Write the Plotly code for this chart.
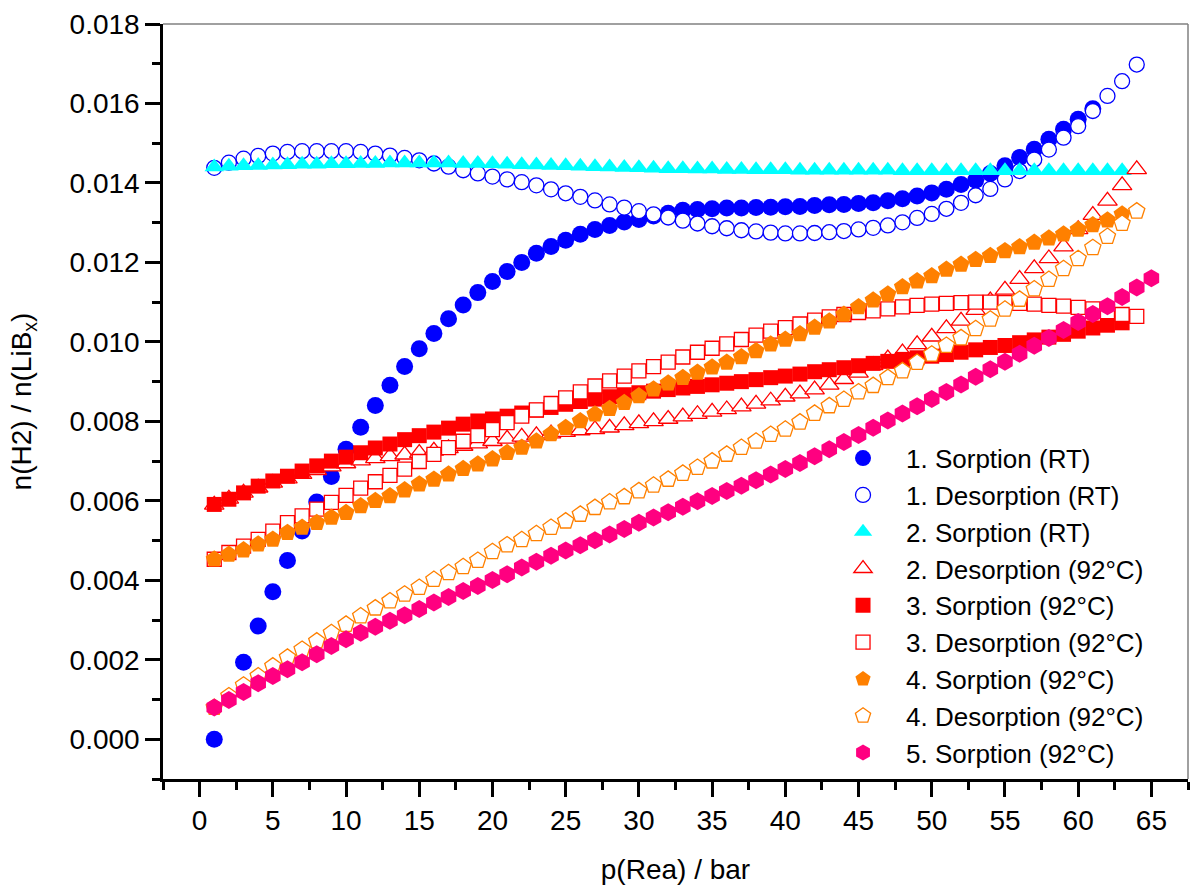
import plotly.graph_objects as go

# Pressure steps (bar) for each run
p_s1 = [1] + list(range(3, 62))
p_d1 = list(range(1, 65))
p_s2 = list(range(1, 64))
p_d2 = list(range(1, 65))
p_s3 = list(range(1, 64))
p_d3 = list(range(1, 65))
p_s4 = list(range(1, 64))
p_d4 = list(range(1, 65))
p_s5 = list(range(1, 66))

# n(H2)/n(LiBx) for each run
sorp1_rt = [
    0.00000, 0.00194, 0.00285, 0.00371, 0.00450, 0.00524, 0.00597, 0.00661, 0.00730, 0.00785,
    0.00840, 0.00891, 0.00938, 0.00983, 0.01021, 0.01058, 0.01093, 0.01124, 0.01152, 0.01177,
    0.01200, 0.01223, 0.01240, 0.01256, 0.01271, 0.01283, 0.01293, 0.01302, 0.01308, 0.01317,
    0.01324, 0.01331, 0.01333, 0.01335, 0.01337, 0.01337, 0.01338, 0.01339, 0.01340, 0.01341,
    0.01343, 0.01345, 0.01346, 0.01348, 0.01350, 0.01355, 0.01360, 0.01367, 0.01375, 0.01384,
    0.01396, 0.01407, 0.01424, 0.01443, 0.01464, 0.01485, 0.01510, 0.01535, 0.01560, 0.01587,
]
desorp1_rt = [
    0.01438, 0.01451, 0.01461, 0.01468, 0.01474, 0.01478, 0.01480, 0.01480, 0.01480, 0.01480,
    0.01478, 0.01474, 0.01469, 0.01463, 0.01457, 0.01449, 0.01441, 0.01432, 0.01424, 0.01416,
    0.01409, 0.01402, 0.01394, 0.01384, 0.01374, 0.01365, 0.01356, 0.01346, 0.01338, 0.01329,
    0.01321, 0.01313, 0.01305, 0.01298, 0.01291, 0.01286, 0.01281, 0.01278, 0.01275, 0.01273,
    0.01273, 0.01274, 0.01276, 0.01279, 0.01283, 0.01287, 0.01293, 0.01301, 0.01312, 0.01322,
    0.01335, 0.01350, 0.01369, 0.01385, 0.01409, 0.01430, 0.01459, 0.01484, 0.01514, 0.01543,
    0.01581, 0.01619, 0.01656, 0.01698,
]
sorp2_rt = [
    0.01440, 0.01442, 0.01443, 0.01444, 0.01445, 0.01446, 0.01447, 0.01447, 0.01448, 0.01448,
    0.01449, 0.01449, 0.01450, 0.01450, 0.01450, 0.01450, 0.01450, 0.01449, 0.01449, 0.01448,
    0.01447, 0.01446, 0.01445, 0.01444, 0.01443, 0.01442, 0.01441, 0.01440, 0.01439, 0.01438,
    0.01437, 0.01436, 0.01436, 0.01435, 0.01435, 0.01434, 0.01434, 0.01433, 0.01433, 0.01433,
    0.01432, 0.01432, 0.01432, 0.01432, 0.01432, 0.01432, 0.01432, 0.01431, 0.01431, 0.01431,
    0.01431, 0.01431, 0.01431, 0.01431, 0.01431, 0.01431, 0.01431, 0.01431, 0.01431, 0.01431,
    0.01431, 0.01431, 0.01431,
]
desorp2_92 = [
    0.00590, 0.00605, 0.00620, 0.00633, 0.00645, 0.00656, 0.00667, 0.00677, 0.00686, 0.00694,
    0.00701, 0.00707, 0.00712, 0.00716, 0.00720, 0.00726, 0.00732, 0.00738, 0.00744, 0.00750,
    0.00756, 0.00761, 0.00765, 0.00769, 0.00773, 0.00777, 0.00780, 0.00784, 0.00790, 0.00795,
    0.00800, 0.00806, 0.00812, 0.00818, 0.00824, 0.00830, 0.00837, 0.00844, 0.00852, 0.00862,
    0.00870, 0.00880, 0.00892, 0.00906, 0.00922, 0.00941, 0.00958, 0.00973, 0.00994, 0.01013,
    0.01034, 0.01053, 0.01080, 0.01104, 0.01131, 0.01158, 0.01185, 0.01210, 0.01240, 0.01283,
    0.01319, 0.01355, 0.01394, 0.01434,
]
sorp3_92 = [
    0.00591, 0.00604, 0.00620, 0.00637, 0.00650, 0.00662, 0.00675, 0.00688, 0.00700, 0.00710,
    0.00721, 0.00733, 0.00743, 0.00754, 0.00764, 0.00773, 0.00783, 0.00793, 0.00801, 0.00806,
    0.00813, 0.00821, 0.00828, 0.00835, 0.00843, 0.00850, 0.00856, 0.00862, 0.00867, 0.00872,
    0.00876, 0.00880, 0.00884, 0.00888, 0.00892, 0.00896, 0.00900, 0.00905, 0.00910, 0.00914,
    0.00919, 0.00925, 0.00930, 0.00935, 0.00940, 0.00946, 0.00951, 0.00956, 0.00960, 0.00964,
    0.00968, 0.00974, 0.00980, 0.00986, 0.00991, 0.00998, 0.01005, 0.01012, 0.01019, 0.01027,
    0.01035, 0.01042, 0.01048,
]
desorp3_92 = [
    0.00453, 0.00470, 0.00486, 0.00503, 0.00524, 0.00545, 0.00562, 0.00579, 0.00596, 0.00614,
    0.00632, 0.00648, 0.00664, 0.00680, 0.00699, 0.00717, 0.00734, 0.00750, 0.00764, 0.00779,
    0.00797, 0.00813, 0.00829, 0.00845, 0.00859, 0.00874, 0.00889, 0.00902, 0.00914, 0.00927,
    0.00938, 0.00949, 0.00962, 0.00974, 0.00984, 0.00995, 0.01006, 0.01017, 0.01027, 0.01036,
    0.01045, 0.01055, 0.01063, 0.01069, 0.01074, 0.01078, 0.01083, 0.01088, 0.01092, 0.01095,
    0.01097, 0.01099, 0.01100, 0.01100, 0.01099, 0.01097, 0.01095, 0.01092, 0.01090, 0.01087,
    0.01083, 0.01076, 0.01069, 0.01064,
]
sorp4_92 = [
    0.00453, 0.00465, 0.00476, 0.00491, 0.00503, 0.00520, 0.00533, 0.00545, 0.00558, 0.00570,
    0.00587, 0.00600, 0.00612, 0.00627, 0.00642, 0.00654, 0.00667, 0.00681, 0.00692, 0.00705,
    0.00721, 0.00734, 0.00750, 0.00768, 0.00784, 0.00801, 0.00818, 0.00832, 0.00847, 0.00864,
    0.00881, 0.00896, 0.00910, 0.00923, 0.00936, 0.00948, 0.00962, 0.00977, 0.00994, 0.01006,
    0.01020, 0.01036, 0.01052, 0.01069, 0.01088, 0.01105, 0.01120, 0.01138, 0.01153, 0.01166,
    0.01182, 0.01195, 0.01207, 0.01217, 0.01229, 0.01239, 0.01250, 0.01261, 0.01271, 0.01283,
    0.01294, 0.01306, 0.01321,
]
desorp4_92 = [
    0.00080, 0.00109, 0.00136, 0.00159, 0.00184, 0.00206, 0.00226, 0.00247, 0.00268, 0.00289,
    0.00310, 0.00330, 0.00348, 0.00365, 0.00382, 0.00402, 0.00419, 0.00434, 0.00450, 0.00472,
    0.00489, 0.00502, 0.00517, 0.00533, 0.00549, 0.00566, 0.00583, 0.00597, 0.00610, 0.00625,
    0.00639, 0.00654, 0.00669, 0.00684, 0.00700, 0.00717, 0.00734, 0.00750, 0.00767, 0.00780,
    0.00798, 0.00820, 0.00839, 0.00855, 0.00874, 0.00890, 0.00910, 0.00927, 0.00948, 0.00969,
    0.00991, 0.01010, 0.01033, 0.01057, 0.01082, 0.01107, 0.01133, 0.01157, 0.01184, 0.01209,
    0.01237, 0.01265, 0.01298, 0.01329,
]
sorp5_92 = [
    0.00080, 0.00099, 0.00119, 0.00141, 0.00159, 0.00176, 0.00194, 0.00214, 0.00235, 0.00252,
    0.00268, 0.00283, 0.00298, 0.00312, 0.00328, 0.00344, 0.00358, 0.00373, 0.00386, 0.00401,
    0.00415, 0.00432, 0.00447, 0.00462, 0.00475, 0.00488, 0.00501, 0.00515, 0.00529, 0.00545,
    0.00558, 0.00571, 0.00585, 0.00599, 0.00612, 0.00625, 0.00638, 0.00652, 0.00666, 0.00680,
    0.00695, 0.00712, 0.00730, 0.00748, 0.00766, 0.00784, 0.00802, 0.00820, 0.00838, 0.00856,
    0.00874, 0.00893, 0.00912, 0.00931, 0.00950, 0.00970, 0.00990, 0.01010, 0.01030, 0.01050,
    0.01070, 0.01090, 0.01113, 0.01137, 0.01160,
]

BLUE = "#0000FF"
CYAN = "#00FFFF"
RED = "#FF0000"
ORANGE = "#FF8000"
PINK = "#FF0080"
FONT = "Liberation Sans, Arial, sans-serif"

series = [
    ("1. Sorption (RT)", p_s1, sorp1_rt, "circle", 17, BLUE, True),
    ("1. Desorption (RT)", p_d1, desorp1_rt, "circle", 15, BLUE, False),
    ("2. Sorption (RT)", p_s2, sorp2_rt, "triangle-up", 17, CYAN, True),
    ("2. Desorption (92°C)", p_d2, desorp2_92, "triangle-up", 17, RED, False),
    ("3. Sorption (92°C)", p_s3, sorp3_92, "square", 15, RED, True),
    ("3. Desorption (92°C)", p_d3, desorp3_92, "square", 14, RED, False),
    ("4. Sorption (92°C)", p_s4, sorp4_92, "pentagon", 18, ORANGE, True),
    ("4. Desorption (92°C)", p_d4, desorp4_92, "pentagon", 17, ORANGE, False),
    ("5. Sorption (92°C)", p_s5, sorp5_92, "hexagon", 18, PINK, True),
]

fig = go.Figure()
for name, xs, ys, sym, size, col, filled in series:
    fig.add_trace(go.Scatter(
        x=xs, y=ys, mode="markers", name=name,
        marker=dict(
            symbol=sym, size=size,
            color=col if filled else "white",
            line=dict(color=col, width=0 if filled else 1.3),
        ),
    ))

fig.update_layout(
    width=1190, height=888,
    margin=dict(l=163, r=2, t=24, b=109),
    paper_bgcolor="white", plot_bgcolor="white",
    font=dict(family=FONT, size=28, color="black"),
    showlegend=True,
    legend=dict(
        x=0.641, y=0.456, xanchor="left", yanchor="top",
        bgcolor="rgba(0,0,0,0)", borderwidth=0,
        font=dict(family=FONT, size=26, color="black"),
        itemwidth=76,
    ),
    shapes=[
        dict(type="line", xref="paper", yref="paper", x0=0, x1=1, y0=1, y1=1,
             line=dict(color="#808080", width=1.5)),
        dict(type="line", xref="paper", yref="paper", x0=1, x1=1, y0=0, y1=1,
             line=dict(color="#808080", width=1.5)),
    ],
)

fig.update_xaxes(
    range=[-2.5, 67.5], tick0=0, dtick=5,
    showgrid=False, zeroline=False,
    showline=True, linecolor="black", linewidth=2.5,
    ticks="outside", ticklen=15, tickwidth=2.5, tickcolor="black",
    minor=dict(ticks="outside", ticklen=8, tickwidth=2.5, tickcolor="black", dtick=2.5),
    tickfont=dict(family=FONT, size=28),
    title=dict(text="p(Rea) / bar", font=dict(family=FONT, size=28), standoff=25),
)
fig.update_yaxes(
    range=[-0.001, 0.018], tick0=0, dtick=0.002, tickformat=".3f",
    showgrid=False, zeroline=False,
    showline=True, linecolor="black", linewidth=2.5,
    ticks="outside", ticklen=15, tickwidth=2.5, tickcolor="black",
    minor=dict(ticks="outside", ticklen=8, tickwidth=2.5, tickcolor="black", dtick=0.001),
    tickfont=dict(family=FONT, size=28),
    title=dict(text="n(H2) / n(LiB<sub>x</sub>)", font=dict(family=FONT, size=28), standoff=30),
)

fig.write_html("out.html")
